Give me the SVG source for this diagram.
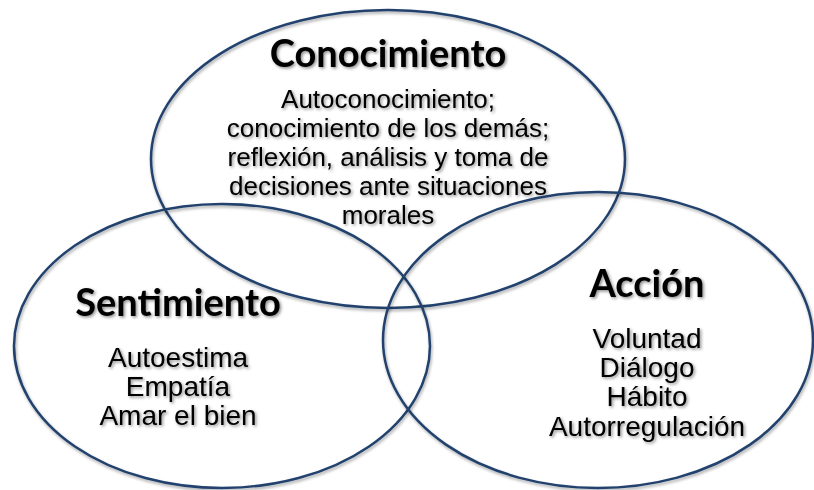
<svg xmlns="http://www.w3.org/2000/svg" width="814" height="490" viewBox="0 0 814 490">
<defs>
<filter id="sh" x="-10%" y="-10%" width="120%" height="130%">
<feDropShadow dx="1" dy="2" stdDeviation="1.6" flood-color="#000" flood-opacity="0.35"/>
</filter>
<filter id="tsh" x="-10%" y="-20%" width="120%" height="150%">
<feDropShadow dx="1.5" dy="1.5" stdDeviation="1.4" flood-color="#000" flood-opacity="0.45"/>
</filter>
</defs>
<style>
.ring{fill:none;stroke:#21426d;stroke-width:2.5;filter:url(#sh)}
.title{font-family:"Lato","Open Sans","Liberation Sans",sans-serif;font-weight:bold;font-size:38px;fill:#000;text-anchor:middle;filter:url(#tsh)}
.body{font-family:"Liberation Sans",Arial,sans-serif;font-size:26px;fill:#000;text-anchor:middle;filter:url(#tsh)}
.big{font-size:28px}
</style>
<rect width="814" height="490" fill="#fff"/>
<g id="conocimiento">
<ellipse class="ring" cx="388" cy="159" rx="237" ry="149"/>
<text class="title" x="388" y="67">Conocimiento</text>
<text class="body" x="388" y="108">Autoconocimiento;</text>
<text class="body" x="388" y="137">conocimiento de los demás;</text>
<text class="body" x="388" y="166">reflexión, análisis y toma de</text>
<text class="body" x="388" y="195">decisiones ante situaciones</text>
<text class="body" x="388" y="224">morales</text>
</g>
<g id="sentimiento">
<ellipse class="ring" cx="222" cy="346" rx="208" ry="142"/>
<text class="title" x="178" y="316">Sentimiento</text>
<text class="body big" x="178" y="367">Autoestima</text>
<text class="body big" x="178" y="396">Empatía</text>
<text class="body big" x="178" y="425">Amar el bien</text>
</g>
<g id="accion">
<ellipse class="ring" cx="598" cy="340" rx="215" ry="148"/>
<text class="title" x="647" y="297">Acción</text>
<text class="body big" x="647" y="348">Voluntad</text>
<text class="body big" x="647" y="377">Diálogo</text>
<text class="body big" x="647" y="406">Hábito</text>
<text class="body big" x="647" y="436">Autorregulación</text>
</g>
</svg>
